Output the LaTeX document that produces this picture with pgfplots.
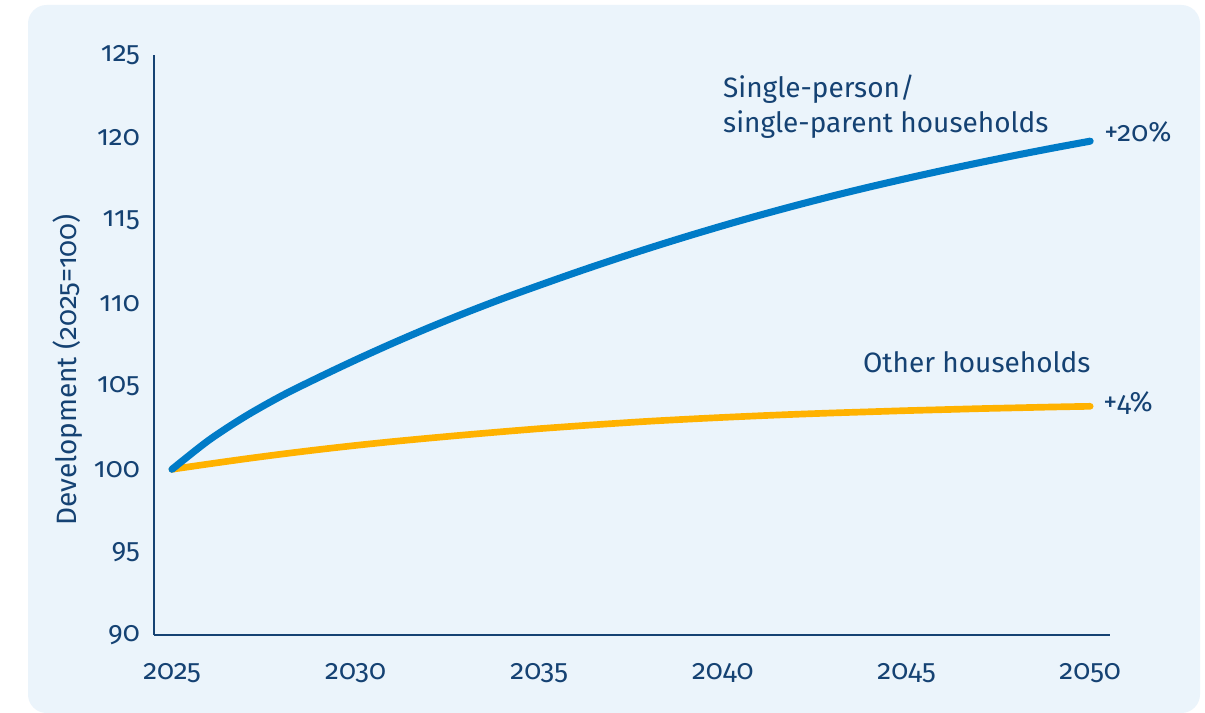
\documentclass[border=0pt]{standalone}
\usepackage{pgfplots}
\pgfplotsset{compat=1.18}
\usepackage{fontspec}
\setmainfont{Fira Sans}[Numbers=OldStyle]
\definecolor{navy}{RGB}{21,66,115}
\definecolor{bgblue}{RGB}{235,244,251}
\definecolor{lblue}{RGB}{0,123,199}
\definecolor{lorange}{RGB}{255,178,0}
\begin{document}
\begin{tikzpicture}
\useasboundingbox (0,0) rectangle (903.75pt,534.75pt);
\fill[white] (0,0) rectangle (903.75pt,534.75pt);
\fill[bgblue, rounded corners=14pt] (21pt,0pt) rectangle (900pt,531pt);
\begin{axis}[
  at={(115.5pt,58.5pt)}, anchor=south west,
  scale only axis, width=717pt, height=435pt,
  xmin=2024.51, xmax=2050.54, ymin=90, ymax=125,
  axis x line*=bottom, axis y line*=left,
  axis line style={navy, line width=1.9pt},
  xtick={2025,2030,2035,2040,2045,2050},
  ytick={90,95,100,105,110,115,120,125},
  major tick length=0pt,
  tick label style={font=\fontsize{21}{25}\selectfont, text=navy},
  /pgf/number format/assume math mode=true,
  /pgf/number format/1000 sep={},
  xticklabel style={anchor=north, inner sep=0pt, yshift=-21pt},
  yticklabel style={anchor=east, inner sep=0pt, xshift=-10.5pt},
  clip=false,
]
\addplot[lorange, line width=5pt, line cap=round, line join=round, smooth] coordinates {
(2025,100.0) (2026,100.32) (2027,100.63) (2028,100.92) (2029,101.19) (2030,101.44)
(2031,101.67) (2032,101.88) (2033,102.08) (2034,102.27) (2035,102.45) (2036,102.61)
(2037,102.76) (2038,102.9) (2039,103.02) (2040,103.13) (2041,103.23) (2042,103.32)
(2043,103.4) (2044,103.47) (2045,103.54) (2046,103.6) (2047,103.66) (2048,103.71)
(2049,103.76) (2050,103.8)
};
\addplot[lblue, line width=5.3pt, line cap=round, line join=round, smooth] coordinates {
(2025,100.0) (2026,101.75) (2027,103.2) (2028,104.45) (2029,105.55) (2030,106.6)
(2031,107.6) (2032,108.55) (2033,109.45) (2034,110.3) (2035,111.1) (2036,111.88)
(2037,112.63) (2038,113.35) (2039,114.04) (2040,114.7) (2041,115.33) (2042,115.93)
(2043,116.5) (2044,117.04) (2045,117.55) (2046,118.04) (2047,118.51) (2048,118.96)
(2049,119.39) (2050,119.8)
};
\begin{scope}[every node/.style={font=\fontsize{21}{25}\selectfont, text=navy, inner sep=0pt}]
\node[anchor=base west] at (axis cs:2040.0,122.41) {Single-person/};
\node[anchor=base west] at (axis cs:2040.0,120.31) {single-parent households};
\node[anchor=base west] at (axis cs:2050.38,119.77) {+20\%};
\node[anchor=base west] at (axis cs:2043.81,105.83) {Other households};
\node[anchor=base west] at (axis cs:2050.35,103.48) {+4\%};
\node[rotate=90, anchor=center] at (axis cs:2022.17,105.99) {Development (2025=100)};
\end{scope}
\end{axis}
\end{tikzpicture}
\end{document}
